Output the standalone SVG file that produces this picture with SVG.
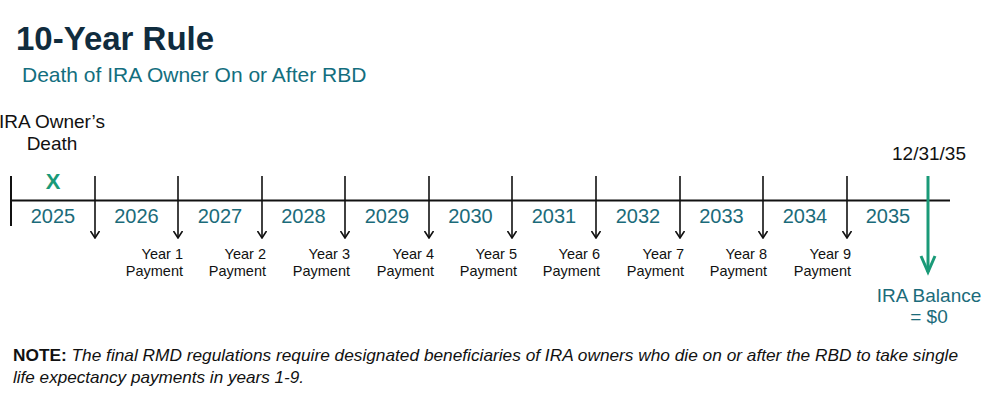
<svg xmlns="http://www.w3.org/2000/svg" width="988" height="393" viewBox="0 0 988 393">
<defs>
<style>
.t{font-family:"Liberation Sans",Arial,sans-serif}
.yr{font-size:20px;fill:#1b6b7a;text-anchor:middle}
.pay{font-size:14.5px;fill:#111;text-anchor:end}
.tick{stroke:#111;stroke-width:1.6;fill:none}
</style>
<marker id="ah" viewBox="0 0 8 10" refX="7" refY="5" markerWidth="8" markerHeight="10" markerUnits="userSpaceOnUse" orient="auto">
<path d="M0,0.5 L7,5 L0,9.5" fill="none" stroke="#111" stroke-width="1.6"/>
</marker>
</defs>
<rect width="988" height="393" fill="#fff"/>
<g id="title">
<text class="t" x="16" y="50" font-size="33" font-weight="bold" fill="#102c3e">10-Year Rule</text>
<text class="t" x="22" y="82" font-size="21" fill="#136e7e">Death of IRA Owner On or After RBD</text>
</g>
<g id="connectors">
<line x1="11" y1="200.5" x2="950" y2="200.5" stroke="#111" stroke-width="2"/>
<line x1="11" y1="176" x2="11" y2="226" stroke="#111" stroke-width="2"/>
<g class="tick">
<line x1="95" y1="176" x2="95" y2="238" marker-end="url(#ah)"/>
<line x1="178" y1="176" x2="178" y2="238" marker-end="url(#ah)"/>
<line x1="262" y1="176" x2="262" y2="238" marker-end="url(#ah)"/>
<line x1="345" y1="176" x2="345" y2="238" marker-end="url(#ah)"/>
<line x1="429" y1="176" x2="429" y2="238" marker-end="url(#ah)"/>
<line x1="512" y1="176" x2="512" y2="238" marker-end="url(#ah)"/>
<line x1="596" y1="176" x2="596" y2="238" marker-end="url(#ah)"/>
<line x1="680" y1="176" x2="680" y2="238" marker-end="url(#ah)"/>
<line x1="763" y1="176" x2="763" y2="238" marker-end="url(#ah)"/>
<line x1="847" y1="176" x2="847" y2="238" marker-end="url(#ah)"/>
</g>
<line x1="928" y1="176" x2="928" y2="272" stroke="#1a9a78" stroke-width="3"/>
<path d="M921,256 L928,272 L935,256" fill="none" stroke="#1a9a78" stroke-width="3"/>
</g>
<g id="death">
<text class="t" x="52" y="128" font-size="19" fill="#111" text-anchor="middle">IRA Owner’s</text>
<text class="t" x="52" y="150" font-size="19" fill="#111" text-anchor="middle">Death</text>
<text class="t" x="53" y="189" font-size="22" font-weight="bold" fill="#1a9a78" text-anchor="middle">X</text>
</g>
<g id="years">
<text class="t yr" x="53" y="223">2025</text>
<text class="t yr" x="136.5" y="223">2026</text>
<text class="t yr" x="220" y="223">2027</text>
<text class="t yr" x="303.5" y="223">2028</text>
<text class="t yr" x="387" y="223">2029</text>
<text class="t yr" x="470.5" y="223">2030</text>
<text class="t yr" x="554" y="223">2031</text>
<text class="t yr" x="638" y="223">2032</text>
<text class="t yr" x="721.5" y="223">2033</text>
<text class="t yr" x="805" y="223">2034</text>
<text class="t yr" x="888" y="223">2035</text>
</g>
<g id="payments">
<text class="t pay" x="183" y="259">Year 1</text><text class="t pay" x="183" y="276">Payment</text>
<text class="t pay" x="266" y="259">Year 2</text><text class="t pay" x="266" y="276">Payment</text>
<text class="t pay" x="350" y="259">Year 3</text><text class="t pay" x="350" y="276">Payment</text>
<text class="t pay" x="434" y="259">Year 4</text><text class="t pay" x="434" y="276">Payment</text>
<text class="t pay" x="517" y="259">Year 5</text><text class="t pay" x="517" y="276">Payment</text>
<text class="t pay" x="600" y="259">Year 6</text><text class="t pay" x="600" y="276">Payment</text>
<text class="t pay" x="684" y="259">Year 7</text><text class="t pay" x="684" y="276">Payment</text>
<text class="t pay" x="767" y="259">Year 8</text><text class="t pay" x="767" y="276">Payment</text>
<text class="t pay" x="851" y="259">Year 9</text><text class="t pay" x="851" y="276">Payment</text>
</g>
<g id="end">
<text class="t" x="929" y="160" font-size="19" fill="#111" text-anchor="middle">12/31/35</text>
<text class="t" x="929" y="302" font-size="19" fill="#1b6b7a" text-anchor="middle">IRA Balance</text>
<text class="t" x="929" y="323" font-size="19" fill="#1b6b7a" text-anchor="middle">= $0</text>
</g>
<g id="note">
<text class="t" x="13" y="361" font-size="17" fill="#111" textLength="945" lengthAdjust="spacingAndGlyphs"><tspan font-weight="bold">NOTE:</tspan><tspan font-style="italic"> The final RMD regulations require designated beneficiaries of IRA owners who die on or after the RBD to take single</tspan></text>
<text class="t" x="13" y="383" font-size="17" fill="#111" font-style="italic" textLength="291" lengthAdjust="spacingAndGlyphs">life expectancy payments in years 1-9.</text>
</g>
</svg>
